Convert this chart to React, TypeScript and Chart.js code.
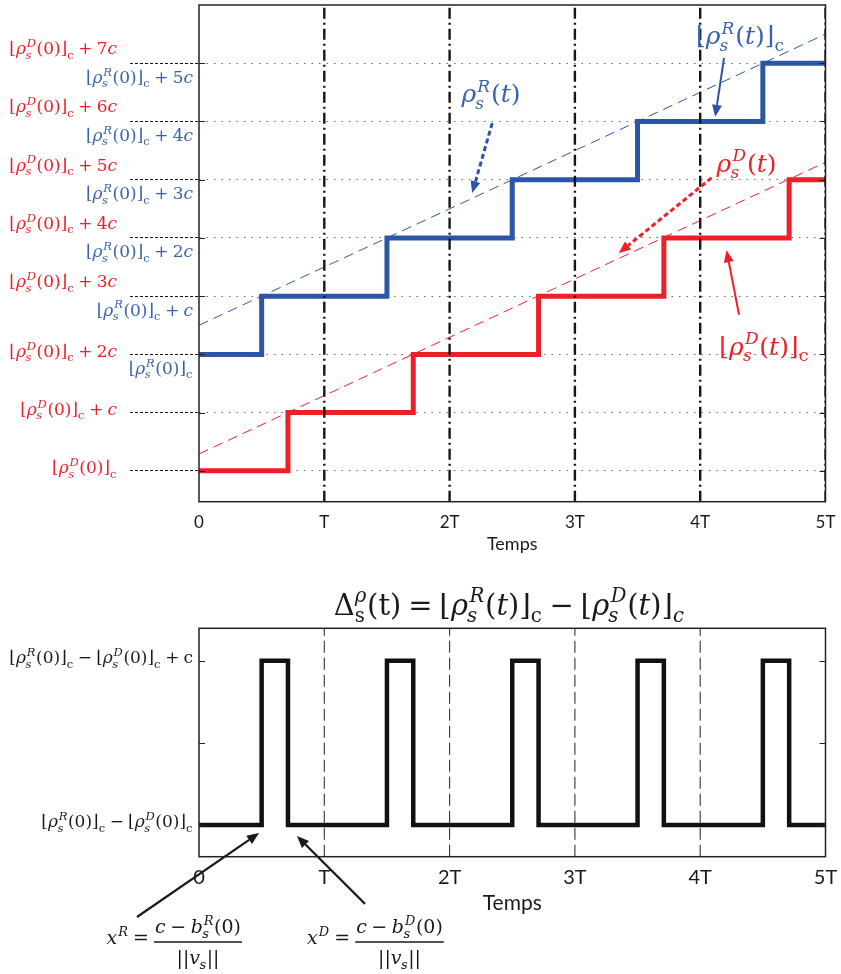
import React, { useEffect, useRef } from "react";
import { Chart, registerables } from "chart.js";

Chart.register(...registerables);

const BLUE = "#2C55A6";
const RED = "#EE1F27";
const BLUE_TXT = "#3A62AE";
const RED_TXT = "#EC2028";
const INK = "#1a1a1a";

// ---- shared time axis (units of T) ----
const xTickVals = [0, 1, 2, 3, 4, 5];
const xTickLabels = ["0", "T", "2T", "3T", "4T", "5T"];

// ---- top chart data (units of c, with ⌊ρ_s^D(0)⌋_c = 0) ----
const rStepTimes = [0, 0.5, 1.5, 2.5, 3.5, 4.5, 5];
const rStepLevels = [2, 3, 4, 5, 6, 7, 7];
const dStepTimes = [0, 0.71, 1.71, 2.71, 3.71, 4.71, 5];
const dStepLevels = [0, 1, 2, 3, 4, 5, 5];
const rContTimes = [0, 5];
const rContValues = [2.5, 7.5];
const dContTimes = [0, 5];
const dContValues = [0.29, 5.3];

const topYTicks = [0, 1, 2, 3, 4, 5, 6, 7];
const dLevelLabels = [
  "⌊ρ_s^D(0)⌋_`c",
  "⌊ρ_s^D(0)⌋_`c + c",
  "⌊ρ_s^D(0)⌋_`c + 2c",
  "⌊ρ_s^D(0)⌋_`c + 3c",
  "⌊ρ_s^D(0)⌋_`c + 4c",
  "⌊ρ_s^D(0)⌋_`c + 5c",
  "⌊ρ_s^D(0)⌋_`c + 6c",
  "⌊ρ_s^D(0)⌋_`c + 7c",
];
const rLabelLevels = [2, 3, 4, 5, 6, 7];
const rLevelLabels = [
  "⌊ρ_s^R(0)⌋_`c",
  "⌊ρ_s^R(0)⌋_`c + c",
  "⌊ρ_s^R(0)⌋_`c + 2c",
  "⌊ρ_s^R(0)⌋_`c + 3c",
  "⌊ρ_s^R(0)⌋_`c + 4c",
  "⌊ρ_s^R(0)⌋_`c + 5c",
];

// annotations of the top chart (data units)
const topNotes = [
  { text: "⌊ρ_s^R(t)⌋_`c", x: 4.32, y: 7.46, color: BLUE_TXT },
  { text: "ρ_s^R(t)", x: 2.33, y: 6.47, color: BLUE_TXT },
  { text: "ρ_s^D(t)", x: 4.37, y: 5.27, color: RED_TXT },
  { text: "⌊ρ_s^D(t)⌋_`c", x: 4.51, y: 2.13, color: RED_TXT },
];
const topArrows = [
  { x1: 4.19, y1: 7.09, x2: 4.12, y2: 6.08, color: BLUE, dashed: false },
  { x1: 2.34, y1: 5.97, x2: 2.18, y2: 4.77, color: BLUE, dashed: true },
  { x1: 4.09, y1: 5.03, x2: 3.35, y2: 3.74, color: RED, dashed: true },
  { x1: 4.31, y1: 2.68, x2: 4.21, y2: 3.79, color: RED, dashed: false },
];

// ---- bottom chart data ----
const deltaTimes = [0, 0.5, 0.71, 1.5, 1.71, 2.5, 2.71, 3.5, 3.71, 4.5, 4.71, 5];
const deltaValues = [0, 1, 0, 1, 0, 1, 0, 1, 0, 1, 0, 0];
const deltaTickVals = [0, 0.5, 1];
const deltaTickLabels = [
  "⌊ρ_s^R(0)⌋_`c − ⌊ρ_s^D(0)⌋_`c",
  "",
  "⌊ρ_s^R(0)⌋_`c − ⌊ρ_s^D(0)⌋_`c + `c",
];
const deltaTitle = "Δ_`s^ρ(`t) = ⌊ρ_s^R(t)⌋_`c − ⌊ρ_s^D(t)⌋_c";
const bottomArrows = [
  { x1: -0.495, y1: -0.56, x2: 0.479, y2: -0.049 },
  { x1: 1.325, y1: -0.48, x2: 0.782, y2: -0.067 },
];
const formulas = [
  { lhs: "x^R =", num: "c − b_s^R(0)", den: "||v_s||", x: -0.008, y: -0.712 },
  { lhs: "x^D =", num: "c − b_s^D(0)", den: "||v_s||", x: 1.6, y: -0.712 },
];

const TOP_Y_MIN = -0.53;
const TOP_Y_MAX = 8;
const BOT_Y_MIN = -0.193;
const BOT_Y_MAX = 1.197;

// ---------- tiny math text renderer ----------
type Atom = { t: string; it: boolean; sub?: Atom[]; sup?: Atom[] };
const MATH_FAMILY = '"DejaVu Serif", "Liberation Serif", serif';
const mathCache = new Map<string, Atom[]>();

function parseMath(src: string): Atom[] {
  const hit = mathCache.get(src);
  if (hit) return hit;
  let i = 0;
  const one = (): Atom[] => {
    const ch = src[i];
    if (ch === "{") {
      i++;
      return seq(true);
    }
    if (ch === "`") {
      i += 2;
      return [{ t: src[i - 1], it: false }];
    }
    i++;
    return [{ t: ch, it: /[A-Za-zα-ω]/.test(ch) }];
  };
  const seq = (inner: boolean): Atom[] => {
    const out: Atom[] = [];
    while (i < src.length) {
      const ch = src[i];
      if (ch === "}") {
        i++;
        if (inner) return out;
        continue;
      }
      if (ch === "_" || ch === "^") {
        i++;
        const g = one();
        if (!out.length) out.push({ t: "", it: false });
        const prev = out[out.length - 1];
        if (ch === "_") prev.sub = g;
        else prev.sup = g;
        continue;
      }
      out.push(...one());
    }
    return out;
  };
  const res = seq(false);
  mathCache.set(src, res);
  return res;
}

function mfont(it: boolean, size: number) {
  return `${it ? "italic " : ""}${size}px ${MATH_FAMILY}`;
}

function atomsW(ctx: CanvasRenderingContext2D, atoms: Atom[], size: number): number {
  let w = 0;
  for (const a of atoms) w += atomW(ctx, a, size);
  return w;
}

function atomW(ctx: CanvasRenderingContext2D, a: Atom, size: number): number {
  if (a.t === " ") return size * 0.24;
  ctx.font = mfont(a.it, size);
  const w = ctx.measureText(a.t).width;
  const ss = size * 0.68;
  let sw = 0;
  if (a.sub) sw = Math.max(sw, atomsW(ctx, a.sub, ss) + (a.it ? -size * 0.03 : 0));
  if (a.sup) sw = Math.max(sw, atomsW(ctx, a.sup, ss) + (a.it ? size * 0.05 : 0));
  return w + (sw > 0 ? sw + size * 0.03 : 0);
}

function drawAtoms(ctx: CanvasRenderingContext2D, atoms: Atom[], x: number, base: number, size: number): number {
  for (const a of atoms) {
    if (a.t === " ") {
      x += size * 0.24;
      continue;
    }
    ctx.font = mfont(a.it, size);
    const w = ctx.measureText(a.t).width;
    ctx.fillText(a.t, x, base);
    const ss = size * 0.68;
    let sw = 0;
    if (a.sub) {
      const dx = a.it ? -size * 0.03 : 0;
      drawAtoms(ctx, a.sub, x + w + dx, base + size * 0.26, ss);
      sw = Math.max(sw, atomsW(ctx, a.sub, ss) + dx);
    }
    if (a.sup) {
      const dx = a.it ? size * 0.05 : 0;
      drawAtoms(ctx, a.sup, x + w + dx, base - size * 0.42, ss);
      sw = Math.max(sw, atomsW(ctx, a.sup, ss) + dx);
    }
    x += w + (sw > 0 ? sw + size * 0.03 : 0);
  }
  return x;
}

function drawMath(
  ctx: CanvasRenderingContext2D,
  src: string,
  x: number,
  yMid: number,
  size: number,
  color: string,
  align: "left" | "right" | "center" = "left"
): number {
  const atoms = parseMath(src);
  ctx.save();
  ctx.fillStyle = color;
  ctx.textAlign = "left";
  ctx.textBaseline = "alphabetic";
  const w = atomsW(ctx, atoms, size);
  const x0 = align === "left" ? x : align === "right" ? x - w : x - w / 2;
  drawAtoms(ctx, atoms, x0, yMid + size * 0.32, size);
  ctx.restore();
  return w;
}

function drawArrow(
  ctx: CanvasRenderingContext2D,
  x1: number, y1: number, x2: number, y2: number,
  color: string, width: number, dash: number[], head = 12, hw = 4.5
) {
  const ang = Math.atan2(y2 - y1, x2 - x1);
  const bx = x2 - head * Math.cos(ang);
  const by = y2 - head * Math.sin(ang);
  ctx.save();
  ctx.strokeStyle = color;
  ctx.lineWidth = width;
  ctx.setLineDash(dash);
  ctx.beginPath();
  ctx.moveTo(x1, y1);
  ctx.lineTo(bx, by);
  ctx.stroke();
  ctx.setLineDash([]);
  ctx.fillStyle = color;
  ctx.beginPath();
  ctx.moveTo(x2, y2);
  ctx.lineTo(bx + hw * Math.sin(ang), by - hw * Math.cos(ang));
  ctx.lineTo(bx - hw * Math.sin(ang), by + hw * Math.cos(ang));
  ctx.closePath();
  ctx.fill();
  ctx.restore();
}

function frameAndTicks(chart: any, tickVals: number[]) {
  const { ctx, chartArea: a, scales } = chart;
  const y = scales.y;
  ctx.save();
  ctx.strokeStyle = "#222";
  ctx.lineWidth = 1;
  ctx.setLineDash([]);
  for (const v of tickVals) {
    const py = Math.round(y.getPixelForValue(v)) + 0.5;
    ctx.beginPath();
    ctx.moveTo(a.left, py);
    ctx.lineTo(a.left + 6, py);
    ctx.moveTo(a.right - 6, py);
    ctx.lineTo(a.right, py);
    ctx.stroke();
  }
  ctx.lineWidth = 1.5;
  ctx.strokeRect(a.left, a.top, a.right - a.left, a.bottom - a.top);
  ctx.restore();
}

const pts = (xs: number[], ys: number[]) => xs.map((x, i) => ({ x, y: ys[i] }));

function makeTop(canvas: HTMLCanvasElement) {
  const vLines = xTickVals
    .filter((v) => v > 0)
    .map((v) => ({
      data: [{ x: v, y: TOP_Y_MIN }, { x: v, y: TOP_Y_MAX }],
      borderColor: "#161616",
      borderWidth: 2.4,
      borderDash: [11, 4, 2, 4],
      pointRadius: 0,
      order: 0,
    }));
  const decor = {
    id: "topDecor",
    afterDatasetsDraw(chart: any) {
      frameAndTicks(chart, topYTicks);
    },
    afterDraw(chart: any) {
      const { ctx, scales } = chart;
      const xs = scales.x;
      const ys = scales.y;
      // level labels
      topYTicks.forEach((lvl, i) => {
        const py = ys.getPixelForValue(lvl);
        const hasR = rLabelLevels.indexOf(lvl) >= 0;
        const dy = lvl >= 3 ? -14.5 : -3;
        drawMath(ctx, dLevelLabels[i], 117, py + dy, 17, RED_TXT, "right");
        if (hasR) {
          const j = rLabelLevels.indexOf(lvl);
          drawMath(ctx, rLevelLabels[j], 193, py + 14, 17, BLUE_TXT, "right");
        }
      });
      for (const n of topNotes) {
        drawMath(ctx, n.text, xs.getPixelForValue(n.x), ys.getPixelForValue(n.y), 25, n.color, "center");
      }
      for (const a of topArrows) {
        drawArrow(
          ctx,
          xs.getPixelForValue(a.x1), ys.getPixelForValue(a.y1),
          xs.getPixelForValue(a.x2), ys.getPixelForValue(a.y2),
          a.color, a.dashed ? 3 : 2, a.dashed ? [5, 3] : [], 12, 5
        );
      }
    },
  };
  return new Chart(canvas, {
    type: "line",
    data: {
      datasets: [
        ...vLines,
        { data: pts(rStepTimes, rStepLevels), borderColor: BLUE, borderWidth: 5, stepped: "before", pointRadius: 0, order: 1 },
        { data: pts(dStepTimes, dStepLevels), borderColor: RED, borderWidth: 5, stepped: "before", pointRadius: 0, order: 1 },
        { data: pts(rContTimes, rContValues), borderColor: BLUE, borderWidth: 1, borderDash: [10, 6], pointRadius: 0, order: 2 },
        { data: pts(dContTimes, dContValues), borderColor: RED, borderWidth: 1, borderDash: [10, 6], pointRadius: 0, order: 2 },
      ] as any,
    },
    options: {
      responsive: false,
      animation: false,
      devicePixelRatio: 1,
      events: [],
      layout: { padding: { top: 5, right: 15.5, left: 0, bottom: 0 } },
      plugins: { legend: { display: false }, tooltip: { enabled: false } },
      scales: {
        x: {
          type: "linear",
          min: 0,
          max: 5,
          afterBuildTicks: (s: any) => {
            s.ticks = xTickVals.map((v) => ({ value: v }));
          },
          afterFit: (s: any) => {
            s.height = 58.3;
          },
          grid: { display: false },
          border: { display: false },
          ticks: {
            autoSkip: false,
            maxRotation: 0,
            padding: 3,
            color: INK,
            font: { family: "Lato", size: 17 },
            callback: (_v: any, i: number) => xTickLabels[i],
          },
          title: { display: true, text: "Temps", color: INK, font: { family: "Lato", size: 18 }, padding: { top: 0, bottom: 5 } },
        },
        y: {
          type: "linear",
          min: TOP_Y_MIN,
          max: TOP_Y_MAX,
          afterBuildTicks: (s: any) => {
            s.ticks = topYTicks.map((v) => ({ value: v }));
          },
          afterFit: (s: any) => {
            s.width = 199;
          },
          ticks: { display: false },
          grid: { color: "#6a6a6a", lineWidth: 1, drawTicks: true, tickLength: 69, tickColor: "#111", tickWidth: 1, tickBorderDash: [3, 2] },
          border: { display: false, dash: [1.5, 6] },
        },
      },
    } as any,
    plugins: [decor],
  });
}

function makeBottom(canvas: HTMLCanvasElement) {
  const vLines = xTickVals
    .filter((v) => v > 0 && v < 5)
    .map((v) => ({
      data: [{ x: v, y: BOT_Y_MIN }, { x: v, y: BOT_Y_MAX }],
      borderColor: "#333",
      borderWidth: 1.1,
      borderDash: [12, 5],
      pointRadius: 0,
      order: 1,
    }));
  const decor = {
    id: "botDecor",
    afterDatasetsDraw(chart: any) {
      frameAndTicks(chart, deltaTickVals);
    },
    afterDraw(chart: any) {
      const { ctx, scales, chartArea: a } = chart;
      const xs = scales.x;
      const ys = scales.y;
      deltaTickVals.forEach((v, i) => {
        if (!deltaTickLabels[i]) return;
        drawMath(ctx, deltaTickLabels[i], 193, ys.getPixelForValue(v) - 3, 17, INK, "right");
      });
      drawMath(ctx, deltaTitle, (a.left + a.right) / 2 - 3, a.top - 23, 29, INK, "center");
      for (const ar of bottomArrows) {
        drawArrow(
          ctx,
          xs.getPixelForValue(ar.x1), ys.getPixelForValue(ar.y1),
          xs.getPixelForValue(ar.x2), ys.getPixelForValue(ar.y2),
          INK, 2.2, [], 12, 5
        );
      }
      for (const f of formulas) {
        const cx = xs.getPixelForValue(f.x);
        const by = ys.getPixelForValue(f.y);
        const size = 19;
        ctx.save();
        const wn = atomsW(ctx, parseMath(f.num), size);
        const wd = atomsW(ctx, parseMath(f.den), size);
        const bw = Math.max(wn, wd) + 2;
        ctx.strokeStyle = INK;
        ctx.lineWidth = 1.5;
        ctx.beginPath();
        ctx.moveTo(cx - bw / 2, by);
        ctx.lineTo(cx + bw / 2, by);
        ctx.stroke();
        ctx.restore();
        drawMath(ctx, f.num, cx, by - 15, size, INK, "center");
        drawMath(ctx, f.den, cx, by + 16, size, INK, "center");
        drawMath(ctx, f.lhs, cx - bw / 2 - 5, by - 4, size, INK, "right");
      }
    },
  };
  return new Chart(canvas, {
    type: "line",
    data: {
      datasets: [
        ...vLines,
        { data: pts(deltaTimes, deltaValues), borderColor: "#111", borderWidth: 4.5, stepped: "before", pointRadius: 0, order: 0 },
      ] as any,
    },
    options: {
      responsive: false,
      animation: false,
      devicePixelRatio: 1,
      events: [],
      layout: { padding: { top: 68.3, right: 15.5, left: 0, bottom: 0 } },
      plugins: { legend: { display: false }, tooltip: { enabled: false } },
      scales: {
        x: {
          type: "linear",
          min: 0,
          max: 5,
          afterBuildTicks: (s: any) => {
            s.ticks = xTickVals.map((v) => ({ value: v }));
          },
          afterFit: (s: any) => {
            s.height = 117.3;
          },
          grid: { display: false },
          border: { display: false },
          ticks: {
            autoSkip: false,
            maxRotation: 0,
            padding: 1,
            color: INK,
            font: { family: "Lato", size: 20 },
            callback: (_v: any, i: number) => xTickLabels[i],
          },
          title: { display: true, text: "Temps", color: INK, font: { family: "Lato", size: 21 }, padding: { top: 0, bottom: 58 } },
        },
        y: {
          type: "linear",
          min: BOT_Y_MIN,
          max: BOT_Y_MAX,
          afterBuildTicks: (s: any) => {
            s.ticks = deltaTickVals.map((v) => ({ value: v }));
          },
          afterFit: (s: any) => {
            s.width = 199;
          },
          ticks: { display: false },
          grid: { display: false },
          border: { display: false },
        },
      },
    } as any,
    plugins: [decor],
  });
}

export default function App() {
  const topRef = useRef<HTMLCanvasElement>(null);
  const botRef = useRef<HTMLCanvasElement>(null);
  useEffect(() => {
    const c1 = makeTop(topRef.current!);
    const c2 = makeBottom(botRef.current!);
    return () => {
      c1.destroy();
      c2.destroy();
    };
  }, []);
  return (
    <div style={{ position: "absolute", left: 0, top: 0, width: 841, height: 974, background: "#fff" }}>
      <canvas ref={topRef} width={841} height={560} style={{ position: "absolute", left: 0, top: 0, width: 841, height: 560 }} />
      <canvas ref={botRef} width={841} height={414} style={{ position: "absolute", left: 0, top: 560, width: 841, height: 414 }} />
    </div>
  );
}
